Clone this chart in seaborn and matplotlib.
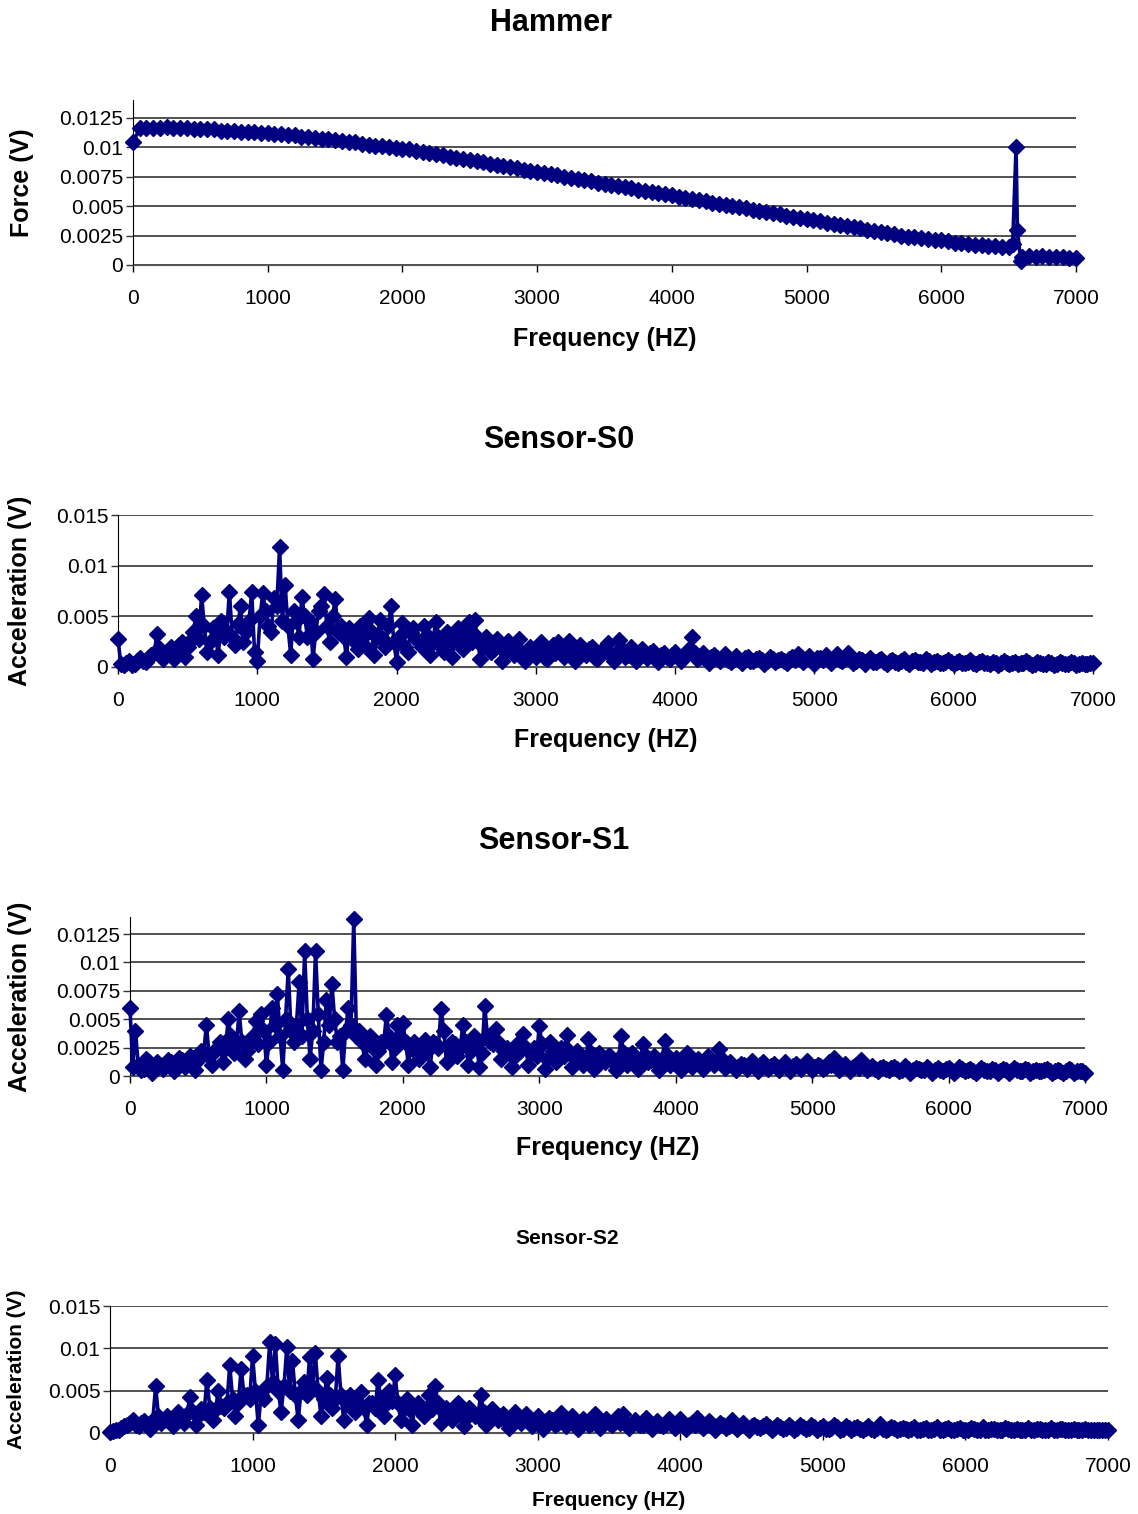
import numpy as np
import seaborn as sns
import matplotlib.pyplot as plt

sns.set_style('white')
plt.rcParams['font.family'] = ['Liberation Sans', 'DejaVu Sans']
plt.rcParams['text.color'] = 'black'
plt.rcParams['axes.labelcolor'] = 'black'
plt.rcParams['xtick.color'] = 'black'
plt.rcParams['ytick.color'] = 'black'

NAVY = '#000080'

# ---- data ----
# hammer force spectrum (units of 1e-3 V)
hammer_freq = list(range(0, 6501, 50)) + [6530, 6555, 6565, 6590] + list(range(6600, 7001, 50))
hammer_force = [
    104, 116, 116, 116, 116, 117, 116, 116, 116, 115,
    115, 115, 115, 114, 114, 114, 113, 113, 113, 112,
    112, 111, 111, 110, 110, 109, 109, 108, 107, 107,
    106, 105, 104, 104, 103, 102, 101, 101, 100, 99,
    98, 98, 97, 96, 95, 94, 93, 92, 91, 90,
    89, 88, 87, 86, 85, 84, 83, 82, 81, 80,
    79, 78, 77, 76, 75, 74, 73, 72, 71, 70,
    69, 68, 67, 66, 65, 64, 63, 62, 61, 60,
    59, 58, 57, 56, 55, 54, 53, 52, 51, 50,
    49, 48, 47, 46, 45, 44, 43, 42, 41, 40,
    39, 38, 37, 36, 35, 34, 33, 32, 31, 30,
    29, 28, 27, 26, 25, 24, 24, 23, 22, 21,
    21, 20, 19, 19, 18, 17, 17, 16, 16, 15,
    15,
    18, 100, 30, 3,
    7, 8, 7, 8, 7, 7, 7, 6, 6,
]
hammer_force = [v / 10 for v in hammer_force]

# sensor spectra (units of 1e-4 V): peaks every 40 Hz, in-between bins at +20 Hz
sensor_freq = list(range(0, 7001, 40))
mid_freq = list(range(20, 7000, 40))

s0_acc = [
    28, 2, 6, 3, 9, 5, 12, 33, 8, 15,
    8, 22, 10, 26, 50, 71, 15, 38, 12, 30,
    74, 22, 60, 35, 74, 6, 73, 40, 68, 118,
    81, 12, 45, 69, 30, 8, 55, 72, 25, 67,
    40, 10, 35, 18, 30, 48, 12, 46, 20, 60,
    5, 43, 15, 38, 25, 40, 12, 44, 20, 35,
    10, 38, 18, 44, 46, 8, 30, 15, 28, 6,
    26, 12, 28, 6, 20, 10, 25, 8, 22, 25,
    10, 26, 6, 22, 12, 20, 8, 18, 24, 6,
    27, 10, 20, 6, 18, 9, 16, 5, 14, 8,
    15, 6, 12, 30, 8, 14, 4, 12, 6, 13,
    5, 11, 4, 10, 6, 9, 3, 10, 5, 8,
    4, 10, 13, 5, 11, 3, 9, 12, 4, 13,
    6, 14, 4, 8, 3, 9, 5, 8, 3, 7,
    4, 8, 3, 7, 5, 8, 3, 6, 4, 7,
    3, 6, 4, 7, 3, 6, 4, 5, 2, 6,
    3, 5, 4, 6, 2, 5, 3, 5, 2, 5,
    3, 5, 2, 4, 3, 4,
]
s0_mid = [
    3, 4, 2, 7, 6, 10, 14, 18, 12, 20,
    16, 25, 20, 35, 28, 40, 25, 30, 45, 35,
    30, 42, 25, 45, 15, 50, 55, 35, 60, 45,
    40, 55, 30, 50, 45, 35, 60, 40, 50, 35,
    30, 38, 25, 40, 20, 35, 30, 28, 40, 25,
    30, 20, 35, 28, 20, 32, 25, 30, 15, 28,
    30, 22, 35, 25, 30, 20, 25, 18, 22, 15,
    18, 20, 12, 16, 15, 18, 10, 16, 14, 18,
    15, 18, 12, 16, 18, 10, 14, 16, 12, 15,
    18, 12, 15, 10, 12, 14, 8, 12, 10, 12,
    10, 12, 18, 14, 10, 8, 10, 9, 10, 7,
    8, 7, 9, 6, 8, 7, 6, 8, 7, 6,
    8, 7, 10, 8, 6, 9, 7, 8, 9, 7,
    9, 7, 6, 7, 6, 5, 7, 5, 6, 5,
    6, 5, 6, 5, 4, 6, 5, 4, 5, 5,
    5, 4, 5, 4, 5, 4, 3, 4, 4, 4,
    4, 3, 4, 4, 3, 4, 3, 4, 3, 4,
    3, 4, 3, 3, 4,
]

s1_acc = [
    60, 40, 5, 15, 3, 12, 6, 14, 4, 16,
    8, 18, 5, 22, 45, 10, 25, 12, 50, 20,
    57, 15, 30, 48, 55, 10, 60, 72, 5, 94,
    30, 83, 110, 15, 110, 5, 67, 81, 30, 5,
    60, 138, 40, 15, 35, 10, 30, 54, 12, 45,
    47, 10, 30, 15, 32, 8, 28, 59, 12, 30,
    18, 45, 10, 35, 8, 62, 30, 41, 15, 25,
    8, 28, 37, 10, 25, 44, 6, 30, 12, 25,
    36, 8, 22, 10, 33, 6, 20, 12, 18, 5,
    35, 10, 20, 6, 28, 12, 18, 5, 31, 10,
    16, 5, 20, 8, 15, 6, 18, 10, 24, 7,
    12, 5, 11, 6, 13, 4, 12, 6, 11, 5,
    12, 4, 11, 6, 13, 5, 10, 6, 12, 16,
    5, 11, 4, 10, 14, 5, 9, 4, 8, 5,
    8, 4, 9, 3, 7, 5, 8, 3, 7, 4,
    7, 3, 8, 4, 6, 3, 7, 4, 6, 3,
    6, 3, 7, 4, 6, 3, 5, 4, 6, 3,
    5, 3, 6, 3, 4, 3,
]
s1_mid = [
    8, 10, 6, 12, 8, 10, 9, 12, 10, 14,
    12, 16, 14, 20, 18, 22, 30, 25, 35, 28,
    30, 22, 35, 28, 40, 30, 45, 35, 50, 40,
    45, 35, 50, 40, 55, 30, 45, 50, 35, 40,
    45, 35, 30, 28, 25, 22, 30, 35, 25, 30,
    30, 25, 20, 28, 22, 30, 25, 40, 25, 28,
    25, 30, 22, 28, 20, 35, 28, 30, 22, 20,
    18, 22, 25, 20, 18, 28, 15, 22, 20, 18,
    22, 15, 18, 12, 20, 15, 14, 18, 12, 15,
    20, 14, 16, 12, 18, 14, 12, 15, 18, 12,
    12, 10, 14, 12, 10, 11, 12, 13, 15, 10,
    9, 8, 10, 9, 8, 10, 8, 9, 8, 9,
    8, 9, 8, 10, 9, 8, 9, 8, 10, 9,
    8, 7, 8, 7, 9, 7, 6, 7, 6, 7,
    6, 5, 6, 5, 6, 5, 6, 5, 5, 6,
    5, 5, 6, 5, 4, 5, 5, 4, 5, 4,
    5, 4, 5, 4, 5, 4, 4, 5, 4, 4,
    4, 4, 5, 4, 4,
]

s2_acc = [
    1, 3, 6, 10, 15, 8, 14, 5, 55, 12,
    20, 8, 25, 12, 43, 10, 28, 63, 15, 50,
    30, 80, 20, 76, 45, 91, 9, 40, 107, 105,
    25, 101, 85, 15, 60, 90, 94, 20, 65, 30,
    91, 15, 45, 25, 48, 10, 35, 63, 20, 50,
    68, 15, 40, 10, 35, 20, 45, 56, 12, 30,
    15, 35, 8, 30, 20, 45, 10, 28, 15, 22,
    6, 25, 12, 22, 8, 20, 5, 18, 10, 24,
    8, 20, 5, 17, 10, 22, 6, 16, 9, 20,
    22, 6, 15, 9, 18, 5, 14, 8, 16, 6,
    17, 5, 12, 18, 6, 14, 4, 12, 6, 15,
    5, 12, 4, 10, 6, 11, 3, 9, 5, 10,
    4, 9, 5, 10, 3, 8, 5, 9, 3, 8,
    4, 7, 3, 8, 4, 11, 3, 7, 4, 6,
    3, 7, 4, 6, 3, 7, 3, 6, 4, 6,
    3, 6, 3, 7, 3, 5, 4, 6, 3, 5,
    3, 6, 3, 5, 4, 6, 3, 5, 3, 5,
    3, 5, 3, 4, 3, 3,
]
s2_mid = [
    2, 4, 8, 12, 10, 12, 10, 15, 20, 15,
    15, 18, 20, 22, 25, 20, 25, 30, 28, 32,
    35, 40, 35, 45, 40, 50, 45, 55, 60, 50,
    55, 50, 45, 50, 45, 55, 50, 40, 45, 40,
    45, 35, 40, 35, 30, 35, 30, 40, 35, 38,
    35, 30, 28, 32, 25, 30, 28, 35, 25, 22,
    20, 22, 18, 25, 20, 25, 22, 20, 18, 15,
    16, 15, 18, 14, 15, 12, 14, 15, 12, 14,
    13, 14, 12, 13, 12, 14, 11, 12, 13, 12,
    12, 10, 11, 10, 12, 9, 10, 11, 10, 9,
    10, 9, 10, 11, 9, 10, 8, 9, 8, 9,
    8, 7, 8, 7, 8, 7, 6, 7, 6, 7,
    6, 7, 6, 7, 6, 5, 6, 7, 5, 6,
    6, 5, 6, 5, 6, 5, 5, 6, 5, 5,
    5, 4, 5, 4, 5, 4, 5, 4, 5, 4,
    4, 5, 4, 4, 5, 4, 4, 5, 4, 4,
    4, 4, 5, 4, 4, 4, 5, 4, 4, 4,
    4, 4, 4, 3, 4,
]

freq_ticks = list(range(0, 7001, 1000))
ticks_25 = [0, 0.0025, 0.005, 0.0075, 0.01, 0.0125]
tick_labels_25 = ['0', '0.0025', '0.005', '0.0075', '0.01', '0.0125']
ticks_5 = [0, 0.005, 0.01, 0.015]
tick_labels_5 = ['0', '0.005', '0.01', '0.015']

W, H = 1138, 1514
fig = plt.figure(figsize=(W / 100, H / 100), dpi=100)


def panel(box, x, y, ymax, yticks, ylabels, title, pos, ylab, big=True):
    left, top, right, bottom = box
    ax = fig.add_axes([left / W, 1 - bottom / H, (right - left) / W, (bottom - top) / H])
    sns.lineplot(x=x, y=y, ax=ax, color=NAVY, linewidth=2.6, marker='D',
                 markersize=8.5, markeredgecolor=NAVY, markeredgewidth=1,
                 clip_on=False, zorder=3)
    ax.set_xlim(0, 7000)
    ax.set_ylim(0, ymax)
    ax.set_xticks(freq_ticks)
    ax.set_xticklabels([str(t) for t in freq_ticks])
    ax.set_yticks(yticks)
    ax.set_yticklabels(ylabels)
    ax.grid(axis='y', color='#333333', linewidth=1.2)
    ax.grid(axis='x', visible=False)
    for s in ['top', 'right']:
        ax.spines[s].set_visible(False)
    ax.spines['left'].set_color('black')
    ax.spines['bottom'].set_color('#555555')
    ax.tick_params(axis='y', length=5, width=1, pad=2, labelsize=15, left=True, color='#333333')
    ax.tick_params(axis='x', length=5, width=1, pad=12, labelsize=15, bottom=True)
    lab_size = 18 if big else 15
    ax.set_xlabel('Frequency (HZ)', fontsize=lab_size, fontweight='bold')
    ax.set_ylabel(ylab, fontsize=lab_size, fontweight='bold')
    ax.xaxis.label.set_va('center')
    ax.yaxis.label.set_va('center')
    h = bottom - top
    w = right - left
    ax.xaxis.set_label_coords(0.5, -(pos[2] - bottom) / h)
    ax.yaxis.set_label_coords(-(left - pos[3]) / w, 0.5)
    fig.text(pos[0] / W, 1 - pos[1] / H, title, ha='center', va='center',
             fontsize=22 if big else 15, fontweight='bold')
    return ax


panel((133, 100, 1076, 265), hammer_freq, np.array(hammer_force) * 1e-3, 0.014,
      ticks_25, tick_labels_25, 'Hammer', (551, 23, 339, 22), 'Force (V)')
panel((118, 515, 1093, 667), sensor_freq + mid_freq, np.array(s0_acc + s0_mid) * 1e-4, 0.015,
      ticks_5, tick_labels_5, 'Sensor-S0', (559, 440, 740, 20), 'Acceleration (V)')
panel((130, 917, 1085, 1076), sensor_freq + mid_freq, np.array(s1_acc + s1_mid) * 1e-4, 0.014,
      ticks_25, tick_labels_25, 'Sensor-S1', (554, 841, 1148, 20), 'Acceleration (V)')
panel((110, 1306, 1108, 1433), sensor_freq + mid_freq, np.array(s2_acc + s2_mid) * 1e-4, 0.015,
      ticks_5, tick_labels_5, 'Sensor-S2', (567, 1239, 1501, 17), 'Acceleration (V)', big=False)

fig.savefig('out.png', dpi=100)
